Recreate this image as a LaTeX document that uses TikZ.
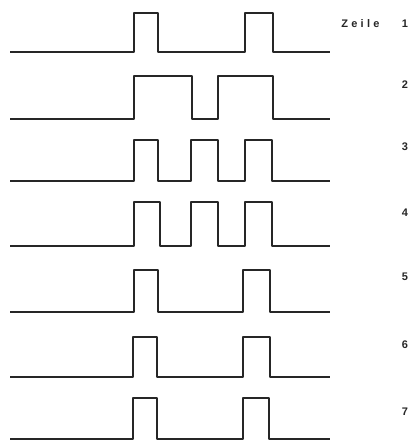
\documentclass[tikz,border=0pt]{standalone}
\usepackage{fontspec}
\setmainfont{Liberation Sans}
\usetikzlibrary{positioning}

\begin{document}
\begin{tikzpicture}[x=1pt, y=-1pt,
    signal/.style={draw=black!85, line width=1.9pt, line join=round},
    rowlabel/.style={inner sep=0pt, text=black!85, font=\fontsize{11}{12}\selectfont\bfseries}]

        \useasboundingbox (0,0) rectangle (412,442);

        % Start and end of every line
        \def\xstart{10}
        \def\xend{330}

        % Label column
        \def\xlabel{405}

        % Rows: number / baseline / top / label height / pulses (rise/fall)
        \foreach \row/\yb/\yt/\ylab/\pulses in {
            1/52/13/24/{134/158,245/273},
            2/119/76/85/{134/192,218/273},
            3/181/140/147/{134/158,191/218,245/272},
            4/246/202/213/{134/160,191/218,245/272},
            5/312/270/277/{134/158,243/270},
            6/377/337/345/{133/157,243/270},
            7/439/398/412/{133/157,243/269}} {
          % Pulse train of the row
          \draw[signal] (\xstart,\yb)
            \foreach \r/\f in \pulses {-- (\r,\yb) -- (\r,\yt) -- (\f,\yt) -- (\f,\yb)}
            -- (\xend,\yb);

          % Row number
          \node[rowlabel] (lab\row) at (\xlabel,\ylab) {\row};
        }

        % Heading for the row numbers
        \node[rowlabel, left=22pt of lab1] (zeile) {\addfontfeature{LetterSpace=30}Zeile};

      \end{tikzpicture}
\end{document}
